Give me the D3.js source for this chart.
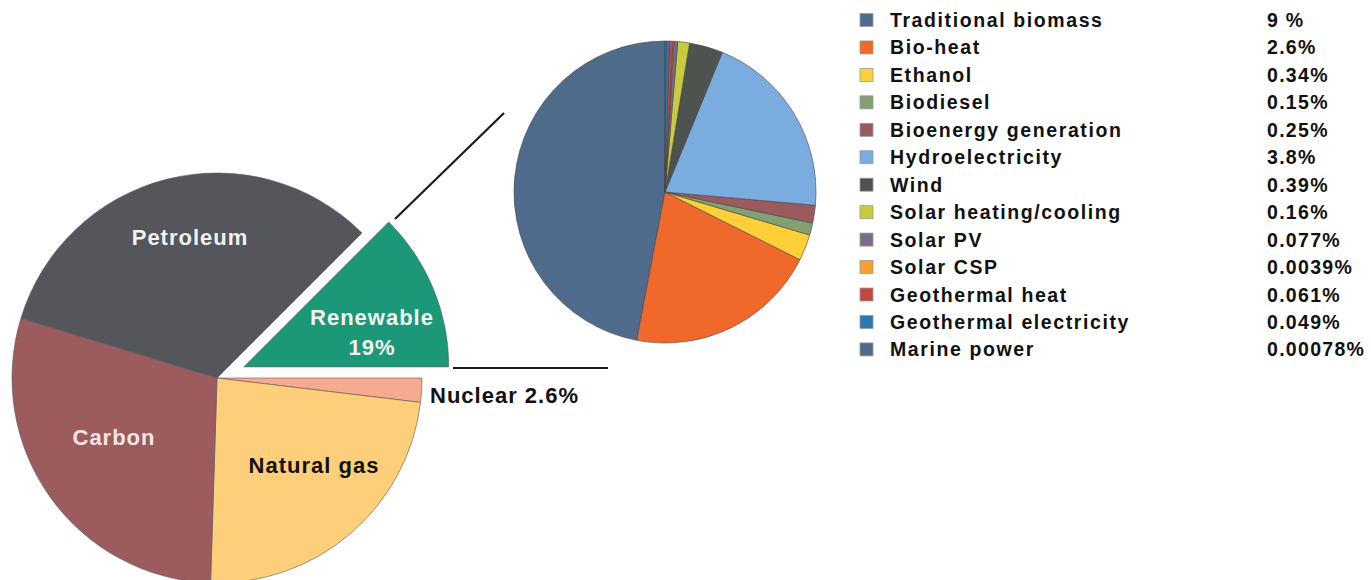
<!DOCTYPE html>
<html>
<head>
<meta charset="utf-8">
<script src="https://cdn.jsdelivr.net/npm/d3@7"></script>
<style>
  html, body { margin: 0; padding: 0; background: #fff; }
  svg { display: block; }
  text { font-family: "Liberation Sans", Arial, Helvetica, sans-serif; font-weight: bold; }
</style>
</head>
<body>
<svg id="chart" width="1371" height="580"></svg>
<script>
// ---- Main pie (world energy mix), slice shares ----
const mainCategories = ["Renewable", "Nuclear", "Natural gas", "Carbon", "Petroleum"];
const mainShares     = [12.5, 1.9, 23.6, 29.2, 32.8];
const mainColors     = ["#1b9878", "#f6ab90", "#fecf7b", "#9c5b5d", "#55565b"];

// ---- Renewable breakdown ----
const renewCategories = ["Traditional biomass", "Bio-heat", "Ethanol", "Biodiesel", "Bioenergy generation",
  "Hydroelectricity", "Wind", "Solar heating/cooling", "Solar PV", "Solar CSP",
  "Geothermal heat", "Geothermal electricity", "Marine power"];
const renewValueLabels = ["9 %", "2.6%", "0.34%", "0.15%", "0.25%", "3.8%", "0.39%", "0.16%",
  "0.077%", "0.0039%", "0.061%", "0.049%", "0.00078%"];
// shares of the small pie as drawn (percent of its circle)
const renewShares = [47.0, 20.6, 2.8, 1.3, 1.9, 20.2, 3.6, 1.25, 0.4, 0.1, 0.4, 0.35, 0.1];
const renewColors = ["#4f6b8c", "#f0692b", "#fdd038", "#83a070", "#9b5b5d", "#7aace0", "#4f534f",
  "#c9cb3f", "#7c6a8e", "#f7a02a", "#c4463c", "#2a7ab8", "#4f6b8c"];

const svg = d3.select("#chart");

// ---------- main pie ----------
const mainCx = 217, mainCy = 378, mainR = 205, explode = 29;
const mainPie = d3.pie().sort(null).value(d => d)
  .startAngle(Math.PI / 4).endAngle(Math.PI / 4 + 2 * Math.PI);
const mainArcs = mainPie(mainShares);
const mainArc = d3.arc().innerRadius(0).outerRadius(mainR);

const gMain = svg.append("g").attr("transform", `translate(${mainCx},${mainCy})`);
gMain.selectAll("path").data(mainArcs).join("path")
  .attr("d", mainArc)
  .attr("fill", (d, i) => mainColors[i])
  .attr("stroke", "#5a5a5a")
  .attr("stroke-width", 0.6)
  .attr("transform", (d, i) => {
    if (i !== 0) return null;
    const a = (d.startAngle + d.endAngle) / 2;
    return `translate(${Math.sin(a) * explode},${-Math.cos(a) * explode})`;
  });

// labels of the main pie
const mainLabel = [
  { t: ["Petroleum"], x: 190, y: 245, fill: "#f2f2f2" },
  { t: ["Carbon"], x: 114, y: 445, fill: "#f4e6e6" },
  { t: ["Natural gas"], x: 314, y: 473, fill: "#111" },
  { t: ["Renewable", "19%"], x: 372, y: 325, fill: "#f2f2f2" }
];
mainLabel.forEach(l => {
  const tx = svg.append("text").attr("x", l.x).attr("y", l.y)
    .attr("text-anchor", "middle").attr("font-size", 22)
    .attr("letter-spacing", 1).attr("fill", l.fill);
  l.t.forEach((s, k) => tx.append("tspan").attr("x", l.x).attr("dy", k === 0 ? 0 : 30).text(s));
});
svg.append("text").attr("x", 430).attr("y", 403).attr("font-size", 22)
  .attr("letter-spacing", 1).attr("fill", "#111").text("Nuclear 2.6%");

// ---------- connector lines ----------
const smallCx = 665, smallCy = 192, smallR = 151;
svg.append("line").attr("x1", 395).attr("y1", 219).attr("x2", 504).attr("y2", 113)
  .attr("stroke", "#1a1a1a").attr("stroke-width", 2.2);
svg.append("line").attr("x1", 453).attr("y1", 368).attr("x2", 608).attr("y2", 368)
  .attr("stroke", "#1a1a1a").attr("stroke-width", 2.2);

// ---------- small pie ----------
const smallPie = d3.pie().sort(null).value(d => d).startAngle(0).endAngle(-2 * Math.PI);
const smallArc = d3.arc().innerRadius(0).outerRadius(smallR);
const gSmall = svg.append("g").attr("transform", `translate(${smallCx},${smallCy})`);
gSmall.selectAll("path").data(smallPie(renewShares)).join("path")
  .attr("d", smallArc)
  .attr("fill", (d, i) => renewColors[i])
  .attr("stroke", "#444")
  .attr("stroke-width", 0.6);

// ---------- legend ----------
const legX = 860, legY0 = 20, legStep = 27.45;
const gLeg = svg.append("g");
const rows = gLeg.selectAll("g").data(renewCategories).join("g")
  .attr("transform", (d, i) => `translate(${legX},${legY0 + i * legStep})`);
rows.append("rect").attr("x", 0).attr("y", -6.5).attr("width", 13).attr("height", 13)
  .attr("fill", (d, i) => renewColors[i]).attr("stroke", "#9a9a9a").attr("stroke-width", 0.8);
rows.append("text").attr("x", 30).attr("y", 7).attr("font-size", 19.5)
  .attr("letter-spacing", 1.6).attr("fill", "#111").text(d => d);
rows.append("text").attr("x", 407).attr("y", 7).attr("font-size", 19.5)
  .attr("letter-spacing", 1.3).attr("fill", "#111").text((d, i) => renewValueLabels[i]);
</script>
</body>
</html>
